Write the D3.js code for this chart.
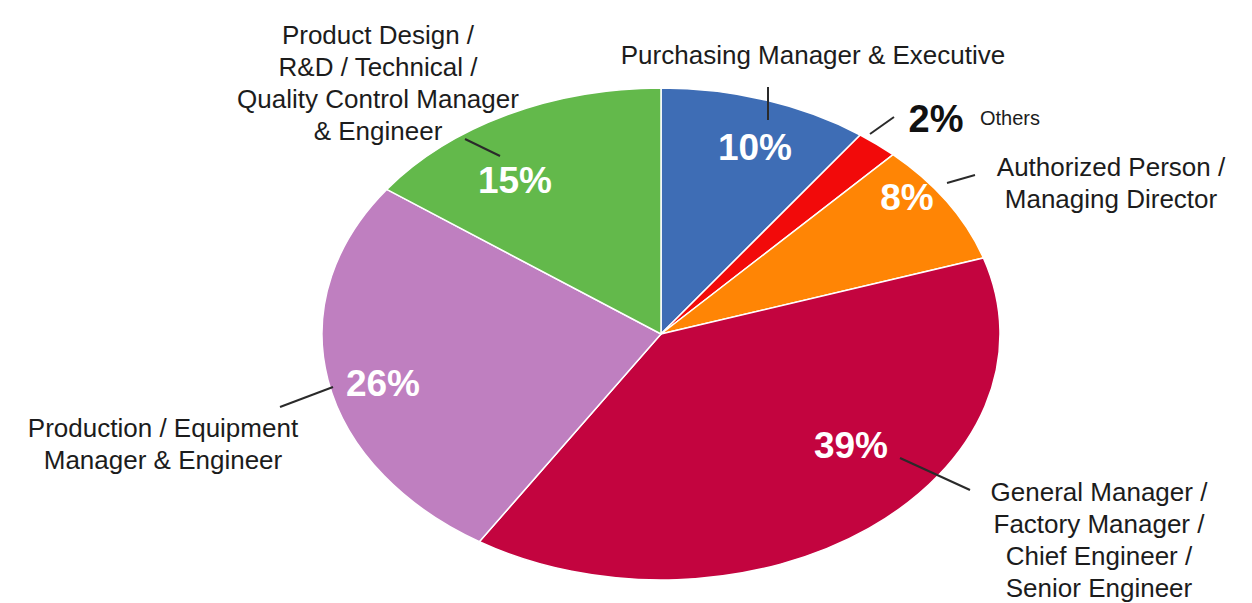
<!DOCTYPE html>
<html><head><meta charset="utf-8">
<script src="https://cdn.jsdelivr.net/npm/d3@7"></script>
<style>html,body{margin:0;padding:0;background:#fff}svg{display:block}</style>
</head><body>
<svg id="c" width="1252" height="603"></svg>
<script>
// ---- data ----
const categories = ["Purchasing Manager & Executive","Others","Authorized Person / Managing Director","General Manager / Factory Manager / Chief Engineer / Senior Engineer","Production / Equipment Manager & Engineer","Product Design / R&D / Technical / Quality Control Manager & Engineer"];
const values = [10, 2, 8, 39, 26, 15];
const pctLabels = ["10%","2%","8%","39%","26%","15%"];
const catLines = [
  ["Purchasing Manager & Executive"],
  ["Others"],
  ["Authorized Person /","Managing Director"],
  ["General Manager /","Factory Manager /","Chief Engineer /","Senior Engineer"],
  ["Production / Equipment","Manager & Engineer"],
  ["Product Design /","R&D / Technical /","Quality Control Manager","& Engineer"]
];
const colors = ["#3e6db5","#f20a0a","#ff8505","#c3043f","#bf7fc0","#63b94b"];

// ---- layout (annotation placement) ----
const cx = 661, cy = 334, rx = 339, ry = 246;
const pctPos = [[755,147],[936,118],[907,197],[851,445],[383,383],[515,180]];
const pctStyle = [
  {fill:"#fff",size:37},{fill:"#111",size:38},{fill:"#fff",size:37},
  {fill:"#fff",size:37},{fill:"#fff",size:37},{fill:"#fff",size:37}];
const catPos = [[813,55,"middle"],[980,118,"start"],[1111,167,"middle"],[1099,492,"middle"],[163,428,"middle"],[378,35,"middle"]];
const catSize = [26,20,26,26,26,26];
const leaders = [[768,87,768,120],[870,134,894,117],[947,183,975,175],[900,458,970,490],[280,407,333,387],[465,139,500,156]];
const lineH = 32;

const svg = d3.select("#c");
const pie = d3.pie().sort(null).value(d => d)(values);
const arc = d3.arc().innerRadius(0).outerRadius(ry);

const g = svg.append("g").attr("transform", `translate(${cx},${cy}) scale(${rx/ry},1)`);
g.selectAll("path").data(pie).join("path")
  .attr("d", arc)
  .attr("fill", (d,i) => colors[i])
  .attr("stroke", "#fff")
  .attr("stroke-width", 1.5)
  .attr("vector-effect", "non-scaling-stroke");

// leader lines
svg.append("g").selectAll("line").data(leaders).join("line")
  .attr("x1", d => d[0]).attr("y1", d => d[1])
  .attr("x2", d => d[2]).attr("y2", d => d[3])
  .attr("stroke", "#2a2a2a").attr("stroke-width", 2);

// percent labels
svg.append("g").selectAll("text").data(pctLabels).join("text")
  .attr("x", (d,i) => pctPos[i][0]).attr("y", (d,i) => pctPos[i][1])
  .attr("dy", "0.36em")
  .attr("text-anchor", "middle")
  .attr("font-family", "Liberation Sans, Arial, sans-serif")
  .attr("font-weight", "bold")
  .attr("font-size", (d,i) => pctStyle[i].size)
  .attr("fill", (d,i) => pctStyle[i].fill)
  .text(d => d);

// category labels
const cg = svg.append("g");
catLines.forEach((lines, i) => {
  const t = cg.append("text")
    .attr("text-anchor", catPos[i][2])
    .attr("font-family", "Liberation Sans, Arial, sans-serif")
    .attr("font-size", catSize[i])
    .attr("fill", "#1c1c1c");
  lines.forEach((ln, k) => {
    t.append("tspan").attr("x", catPos[i][0]).attr("y", catPos[i][1] + k*lineH).attr("dy", "0.36em").text(ln);
  });
});
</script>
</body></html>
